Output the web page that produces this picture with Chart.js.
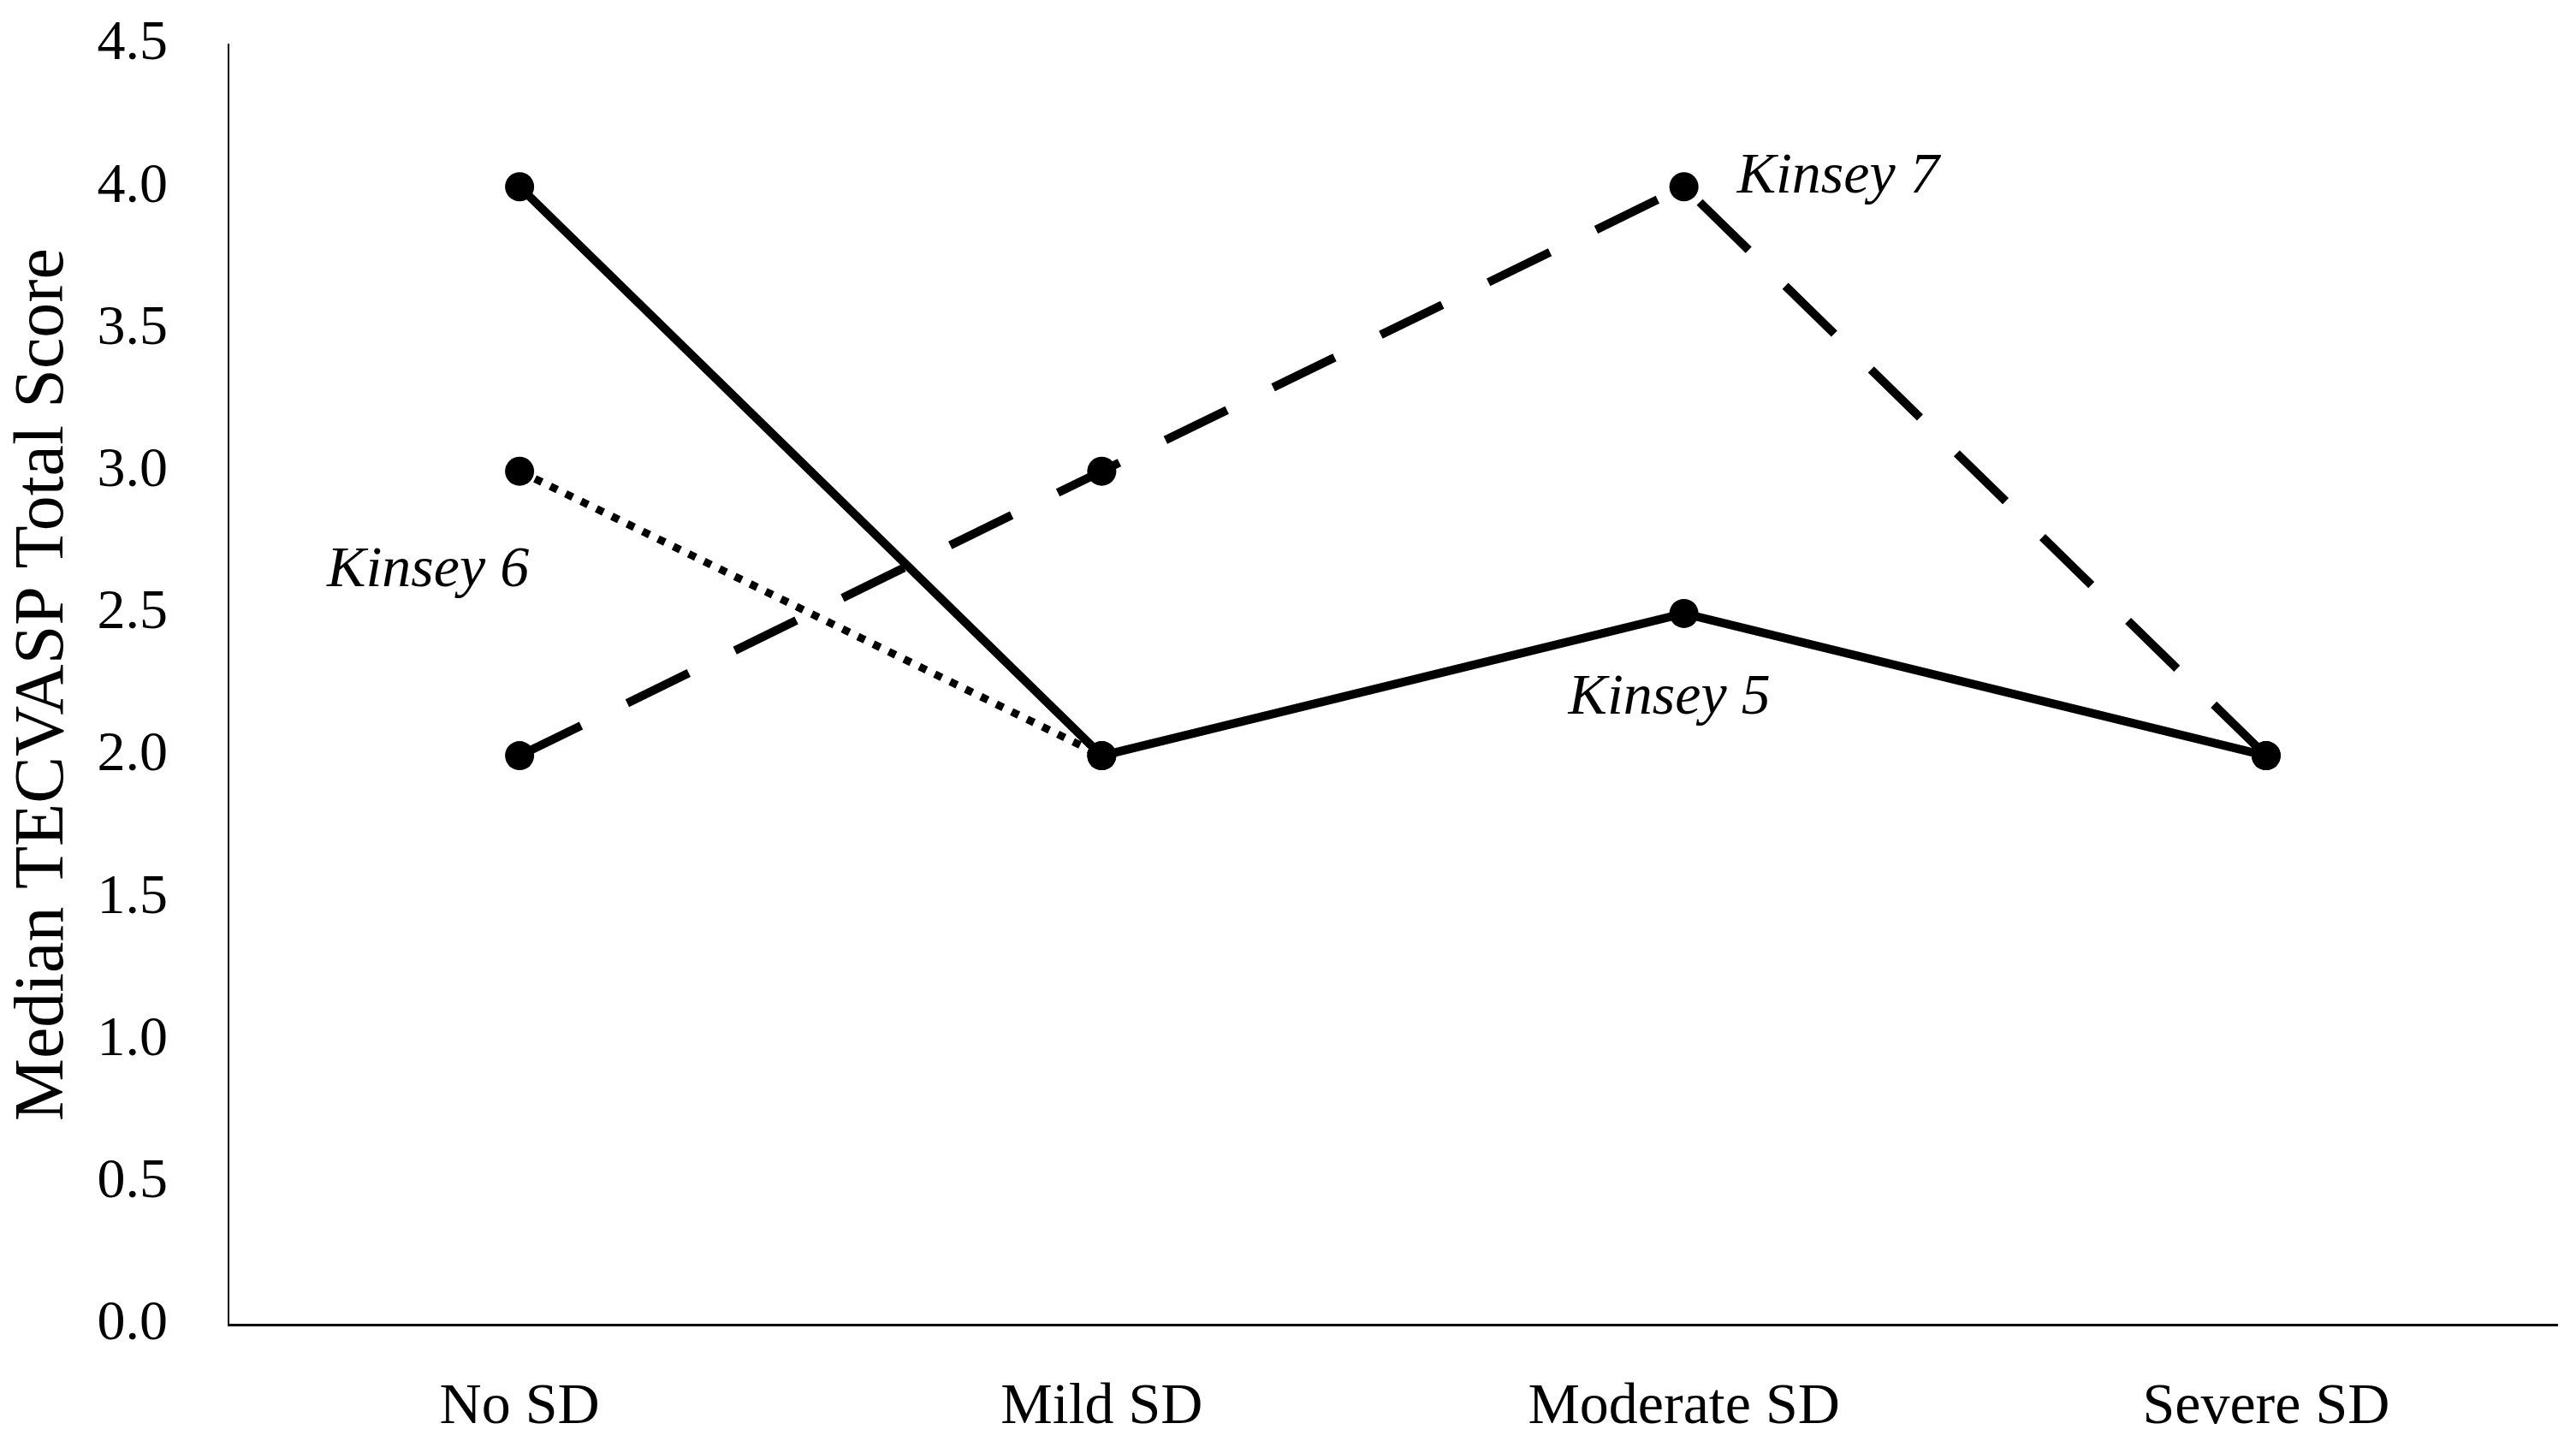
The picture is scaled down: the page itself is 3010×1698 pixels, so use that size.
<!DOCTYPE html>
<html>
<head>
<meta charset="utf-8">
<script src="https://cdn.jsdelivr.net/npm/chart.js@4"></script>
<style>
  html, body { margin: 0; padding: 0; background: #fff; }
  #wrap { width: 3010px; height: 1698px; }
</style>
</head>
<body>
<div id="wrap"><canvas id="myLineChart" width="3010" height="1698"></canvas></div>
<script>
// categories and medians
const categories = ['No SD', 'Mild SD', 'Moderate SD', 'Severe SD'];
const kinsey5 = [4.0, 2.0, 2.5, 2.0];
const kinsey6 = [3.0, 2.0, null, null];
const kinsey7 = [2.0, 3.0, 4.0, 2.0];
const yTicks = [0, 0.5, 1, 1.5, 2, 2.5, 3, 3.5, 4, 4.5];

const serif = "'Liberation Serif', 'DejaVu Serif', serif";

// series labels written next to the lines
const seriesLabels = [
  { text: 'Kinsey 7', cat: 2, val: 4.0, dx: 62, dy: -11, align: 'left' },
  { text: 'Kinsey 6', cat: 0, val: 2.65, dx: 11, dy: 0, align: 'right' },
  { text: 'Kinsey 5', cat: 2, val: 2.2, dx: -17, dy: 0, align: 'center' }
];

const labelPlugin = {
  id: 'seriesLabels',
  afterDatasetsDraw(chart) {
    const ctx = chart.ctx;
    const xs = chart.scales.x, ys = chart.scales.y;
    ctx.save();
    ctx.fillStyle = '#000';
    ctx.font = "italic 68px " + serif;
    ctx.textBaseline = 'middle';
    seriesLabels.forEach(function (l) {
      ctx.textAlign = l.align;
      ctx.fillText(l.text, xs.getPixelForValue(l.cat) + l.dx, ys.getPixelForValue(l.val) + l.dy);
    });
    ctx.restore();
  }
};

function lineSet(label, data, dash, width) {
  return {
    label: label,
    data: data,
    borderColor: '#000',
    backgroundColor: '#000',
    borderWidth: width,
    borderDash: dash,
    borderCapStyle: 'butt',
    pointRadius: 17,
    pointHoverRadius: 17,
    pointBorderWidth: 0,
    pointBackgroundColor: '#000',
    fill: false,
    tension: 0,
    spanGaps: false
  };
}

const lineData = {
  labels: categories,
  datasets: [
    lineSet('Kinsey 6', kinsey6, [9, 11], 9),
    lineSet('Kinsey 7', kinsey7, [80, 60], 10),
    lineSet('Kinsey 5', kinsey5, [], 10)
  ]
};

const lineConfig = {
  type: 'line',
  data: lineData,
  options: {
    responsive: false,
    animation: false,
    layout: { padding: { top: 52, right: 22, bottom: 0, left: 0 } },
    plugins: {
      legend: { display: false },
      tooltip: { enabled: false }
    },
    scales: {
      x: {
        offset: true,
        grid: { display: false, drawTicks: false },
        border: { display: true, color: '#000', width: 3 },
        ticks: {
          color: '#000',
          font: { family: serif, size: 68 },
          padding: 56,
          maxRotation: 0
        },
        afterFit(scale) { scale.height = 150; }
      },
      y: {
        min: 0,
        max: 4.5,
        // invisible tick marks only to keep labels away from the axis
        grid: { display: true, color: 'rgba(0,0,0,0)', drawTicks: true, tickLength: 71 },
        border: { display: true, color: '#000', width: 2 },
        afterBuildTicks(scale) { scale.ticks = yTicks.map(function (v) { return { value: v }; }); },
        ticks: {
          color: '#000',
          font: { family: serif, size: 66, lineHeight: 1.0 },
          padding: 0,
          callback: function (v) { return Number(v).toFixed(1); }
        },
        title: {
          display: true,
          text: 'Median TECVASP Total Score',
          color: '#000',
          font: { family: serif, size: 82 },
          padding: { top: 2, bottom: 0 }
        },
        afterFit(scale) { scale.width = 267; }
      }
    }
  },
  plugins: [labelPlugin]
};

var lineCtx = document.getElementById('myLineChart').getContext('2d');
var myLineChart = new Chart(lineCtx, lineConfig);
</script>
</body>
</html>
